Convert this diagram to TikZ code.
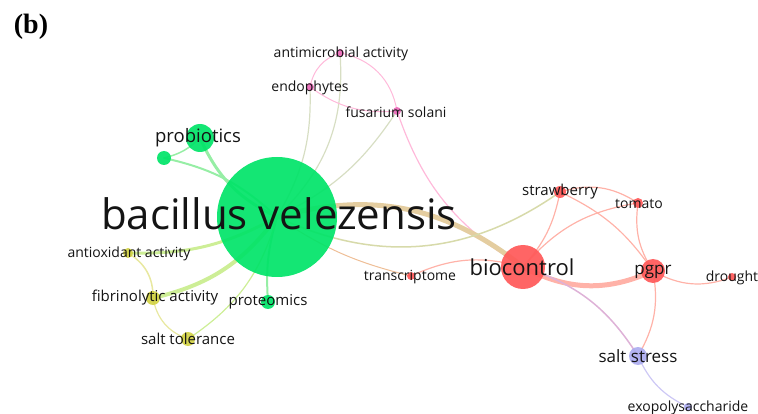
\documentclass[tikz,border=0pt]{standalone}
\usepackage{fontspec}
\setmainfont{Open Sans}
\newfontfamily\capfont{Liberation Serif}
\usetikzlibrary{backgrounds}

\definecolor{kwGreen}{RGB}{0,228,104}
\definecolor{kwRed}{RGB}{255,88,88}
\definecolor{kwPink}{RGB}{235,105,185}
\definecolor{kwYellow}{RGB}{210,210,68}
\definecolor{kwPurple}{RGB}{172,172,240}
\definecolor{eG}{RGB}{150,238,165}
\definecolor{eGY}{RGB}{205,238,150}
\definecolor{eY}{RGB}{232,232,160}
\definecolor{eP}{RGB}{255,185,218}
\definecolor{ePG}{RGB}{215,222,195}
\definecolor{eR}{RGB}{255,178,168}
\definecolor{eT}{RGB}{228,205,160}
\definecolor{eGR}{RGB}{215,218,170}
\definecolor{eO}{RGB}{238,190,150}
\definecolor{eRU}{RGB}{222,178,215}
\definecolor{eU}{RGB}{205,200,245}

\begin{document}
\begin{tikzpicture}[x=1pt, y=1pt]
	\tikzstyle{kw}   = [circle, inner sep=0pt, draw=none, fill opacity=0.92]
	\tikzstyle{lbl}  = [inner sep=0pt, text=black!92]
	\tikzstyle{link} = [line cap=round]

	\useasboundingbox (0,0) rectangle (758,-414);

	\node[font=\capfont\bfseries\fontsize{28}{28}\selectfont] (tag) at (31,-27) {(b)};

	% keyword circles
	\foreach \name/\x/\y/\r/\col in {bv/277/217/60/kwGreen, pro/200/138/14/kwGreen, sg/164/158/7/kwGreen, pt/268/302/7/kwGreen,
		am/340/53/4/kwPink, en/310/87/4/kwPink, fs/397/111/4/kwPink,
		ao/128/253/5/kwYellow, fb/153/298/7/kwYellow, st/188/339/7/kwYellow,
		bc/523/267/22/kwRed, sb/560/192/6/kwRed, tm/638/203/5/kwRed, pg/653/271/12/kwRed, dr/732/277/4/kwRed, tr/411/276/4/kwRed,
		ss/638/356/9/kwPurple, ex/688/407/4/kwPurple}
		\node[kw, minimum size=2*\r, fill=\col] (\name) at (\x,-\y) {};

	% links
	\begin{scope}[on background layer]
	\foreach \a/\b/\w/\c/\ang in {pro/bv/3/eG/-20, sg/bv/2/eG/15, sg/pro/1.5/eG/-15, pt/bv/2/eG/10,
		ao/bv/3/eGY/-15, fb/bv/4/eGY/-20, st/bv/1.2/eGY/-20, ao/fb/1.5/eY/30, fb/st/1.2/eY/-30,
		bv/am/1.2/ePG/-25, bv/en/1.2/ePG/-16, bv/fs/1.2/ePG/-15, en/am/1/eP/30, en/fs/1/eP/-20, am/fs/1/eP/35, fs/bc/1.2/eP/-20,
		bv/bc/5/eT/27, bv/sb/1.5/eGR/-30, bv/tr/1/eO/-10, tr/bc/1.2/eR/20,
		bc/sb/1.2/eR/-15, bc/tm/1.2/eR/20, bc/pg/5/eR/-26, bc/ss/1.5/eRU/20,
		sb/tm/1.2/eR/25, sb/pg/1.2/eR/15, tm/pg/1.2/eR/-20, pg/dr/1.2/eR/-25, pg/ss/1.2/eR/20, ss/ex/1.2/eU/-20}
		\draw[link, line width=\w, draw=\c] (\a.center) to[bend left=\ang] (\b.center);
	\end{scope}

	% labels
	\foreach \name/\x/\y/\f/\t in {bv/279/214/42/bacillus velezensis, pro/198/138/18.5/probiotics, pt/268/302/15/proteomics,
		am/341/54/14/antimicrobial activity, en/310/88/14/endophytes, fs/396/112/14/fusarium solani,
		ao/129/254/14/antioxidant activity, fb/155/298/15/fibrinolytic activity, st/188/339/15/salt tolerance,
		bc/522/267/22/biocontrol, sb/560/192/15/strawberry, tm/639/204/14/tomato, pg/653/272/17/pgpr, dr/732/278/14/drought,
		tr/410/277/14/transcriptome, ss/638/356/17/salt stress, ex/688/408/14/exopolysaccharide}
		\node[lbl, font=\fontsize{\f}{\f}\selectfont] (\name-t) at (\x,-\y) {\t};

\end{tikzpicture}
\end{document}
